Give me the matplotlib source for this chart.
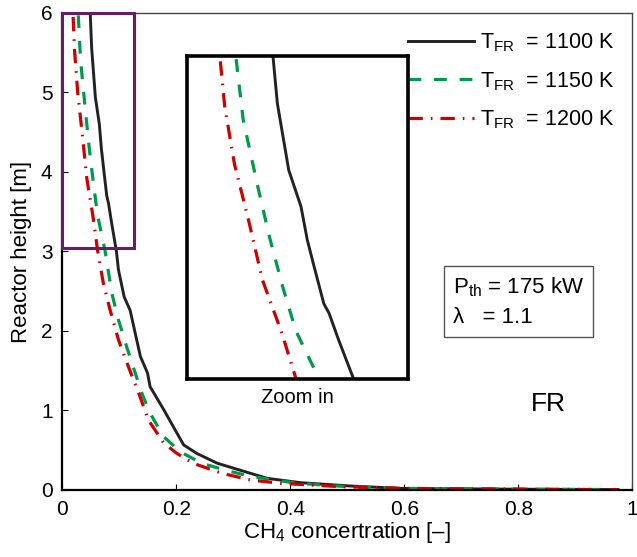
import numpy as np
import matplotlib
matplotlib.use("Agg")
import matplotlib.pyplot as plt
from matplotlib.patches import Rectangle

plt.rcParams['font.family'] = ['Liberation Sans', 'DejaVu Sans']
plt.rcParams['mathtext.fontset'] = 'custom'
plt.rcParams['mathtext.rm'] = 'Liberation Sans'
plt.rcParams['mathtext.it'] = 'Liberation Sans:italic'

# CH4 concentration vs reactor height
h_1100 = [6.0, 5.56, 4.94, 4.60, 4.29, 4.01, 3.70, 3.61, 3.36, 3.0, 2.77, 2.43, 2.26,
          1.68, 1.47, 1.30, 1.01, 0.755, 0.566, 0.46, 0.336, 0.21, 0.146, 0.092,
          0.05, 0.02, 0.01, 0.005]
c_1100 = [0.049, 0.0515, 0.058, 0.065, 0.0686, 0.073, 0.078, 0.081, 0.0865, 0.095,
          0.0985, 0.1085, 0.119, 0.137, 0.1496, 0.154, 0.178, 0.198, 0.213, 0.236,
          0.272, 0.330, 0.36, 0.418, 0.506, 0.594, 0.8, 0.975]

h_1150 = [5.97, 5.41, 4.79, 4.32, 3.86, 3.45, 3.01, 2.47, 2.14, 1.80, 1.47, 1.21,
          0.965, 0.67, 0.48, 0.335, 0.25, 0.176, 0.084, 0.042, 0.02, 0.01, 0.005]
c_1150 = [0.028, 0.032, 0.0403, 0.047, 0.0545, 0.062, 0.075, 0.087, 0.0985, 0.113,
          0.128, 0.14, 0.154, 0.178, 0.207, 0.245, 0.286, 0.327, 0.412, 0.50, 0.6,
          0.8, 0.975]

h_1200 = [5.95, 5.53, 5.00, 4.48, 3.92, 3.43, 3.01, 2.60, 2.26, 1.89, 1.55, 1.22,
          0.88, 0.59, 0.46, 0.335, 0.21, 0.126, 0.084, 0.042, 0.02, 0.01, 0.005]
c_1200 = [0.019, 0.0215, 0.027, 0.035, 0.043, 0.054, 0.062, 0.072, 0.084, 0.0985,
          0.116, 0.134, 0.151, 0.178, 0.201, 0.23, 0.28, 0.33, 0.383, 0.488, 0.6,
          0.8, 0.975]

labels = ['T$_{\\mathrm{FR}}$  = 1100 K', 'T$_{\\mathrm{FR}}$  = 1150 K',
          'T$_{\\mathrm{FR}}$  = 1200 K']
x_ticks = [0, 0.2, 0.4, 0.6, 0.8, 1]
y_ticks = [0, 1, 2, 3, 4, 5, 6]

BLACK = '#222222'
GREEN = '#00994C'
RED = '#CC0000'
PURPLE = '#661C66'


def draw_curves(ax):
    ax.plot(c_1100, h_1100, color=BLACK, lw=2.1, ls='-')
    ax.plot(c_1150, h_1150, color=GREEN, lw=2.3, ls=(0, (4, 4)))
    ax.plot(c_1200, h_1200, color=RED, lw=2.3, ls=(0, (4.5, 2.5, 0.5, 2.5)))


fig = plt.figure(figsize=(6.37, 5.57), dpi=100)
ax = fig.add_axes([0.0978, 0.1203, 0.8948, 0.8564])
draw_curves(ax)
ax.set_xlim(0, 1)
ax.set_ylim(0, 6)
ax.set_xticks(x_ticks)
ax.set_xticklabels(['0', '0.2', '0.4', '0.6', '0.8', '1'])
ax.set_yticks(y_ticks)
ax.tick_params(direction='in', length=4, width=0.8, labelsize=15, pad=7)
for side in ['left', 'bottom']:
    ax.spines[side].set_linewidth(1.6)
    ax.spines[side].set_color('black')
for side in ['top', 'right']:
    ax.spines[side].set_linewidth(1.0)
    ax.spines[side].set_color('#444444')
ax.set_xlabel('CH$_4$ concertration [–]', fontsize=16, labelpad=1)
ax.set_ylabel('Reactor height [m]', fontsize=16, labelpad=6)

leg = ax.legend(ax.get_lines(), labels, loc='upper right', frameon=False,
                fontsize=15.5, handlelength=3.1, handletextpad=0.25,
                labelspacing=0.75, bbox_to_anchor=(1.0, 1.0),
                borderaxespad=0.45)

# zoom region marker
ax.add_patch(Rectangle((0, 3.04), 0.126, 2.96, fill=False, edgecolor=PURPLE,
                       lw=2.2, clip_on=False, zorder=5))

ax.text(0.853, 1.08, 'FR', fontsize=19, ha='center', va='center')
ax.text(0.685, 2.365, 'P$_{\\mathrm{th}}$ = 175 kW\nλ   = 1.1', fontsize=16,
        ha='left', va='center', linespacing=1.5,
        bbox=dict(boxstyle='square,pad=0.4', fc='white', ec='#555555', lw=1.0))

# inset
axin = fig.add_axes([0.2936, 0.3196, 0.3469, 0.5799])
draw_curves(axin)
axin.set_xlim(0, 0.126)
axin.set_ylim(3.0, 6.0)
axin.set_xticks([])
axin.set_yticks([])
for side in axin.spines:
    axin.spines[side].set_linewidth(2.6)
    axin.spines[side].set_color('black')
fig.text(0.467, 0.287, 'Zoom in', fontsize=14.5, ha='center', va='center')

fig.savefig('out.png', dpi=100)
